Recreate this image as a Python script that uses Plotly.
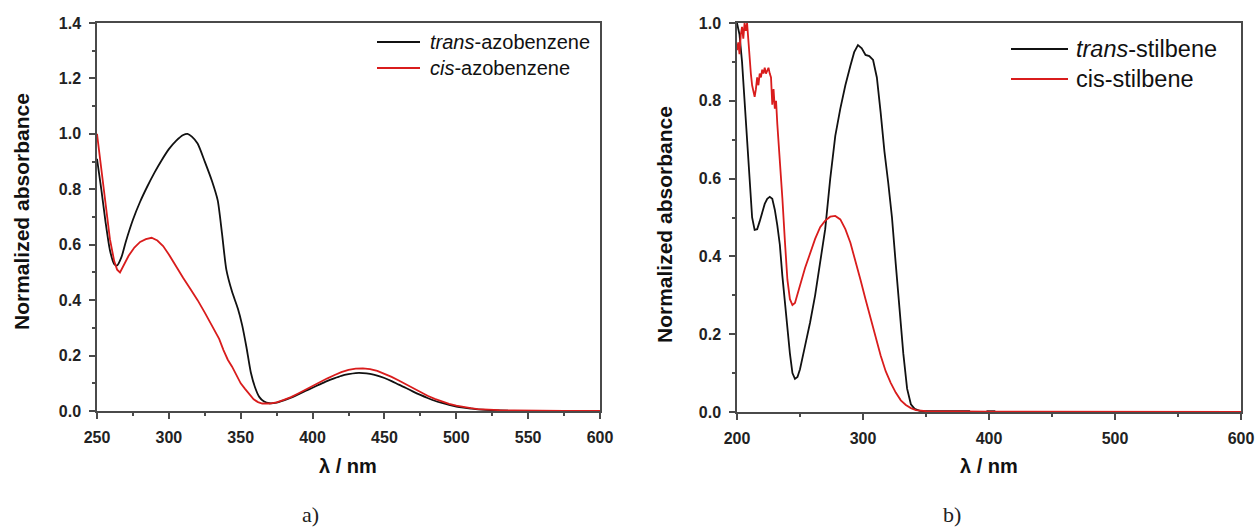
import plotly.graph_objects as go

# ---- a) azobenzene spectra ----
azo_trans_nm = [250, 253, 256, 259, 262, 264, 267, 270, 275, 280, 285, 290, 295, 300, 305, 310, 313,
                316, 320, 325, 330, 334, 337, 340, 344, 348, 351, 354, 357, 360, 363, 366, 370, 375,
                380, 385, 390, 395, 400, 405, 410, 415, 420, 425, 430, 435, 440, 445, 450, 455, 460,
                465, 470, 475, 480, 485, 490, 495, 500, 505, 510, 515, 520, 525, 530, 536]
azo_trans_abs = [0.91, 0.80, 0.68, 0.58, 0.53, 0.525, 0.555, 0.61, 0.69, 0.755, 0.81, 0.86, 0.905,
                 0.945, 0.975, 0.996, 1.0, 0.99, 0.965, 0.90, 0.83, 0.76, 0.64, 0.51, 0.43, 0.37,
                 0.31, 0.23, 0.14, 0.085, 0.05, 0.035, 0.028, 0.03, 0.038, 0.048, 0.06, 0.072, 0.084,
                 0.096, 0.108, 0.118, 0.127, 0.133, 0.137, 0.137, 0.134, 0.128, 0.119, 0.108, 0.095,
                 0.083, 0.070, 0.058, 0.047, 0.037, 0.029, 0.022, 0.016, 0.012, 0.009, 0.006, 0.004,
                 0.003, 0.002, 0.001]

azo_cis_nm = [250, 253, 256, 259, 262, 264, 266, 269, 272, 276, 280, 284, 288, 292, 296, 300, 305,
              310, 315, 320, 325, 330, 335, 338, 341, 344, 347, 350, 353, 356, 359, 362, 365, 370,
              375, 380, 385, 390, 395, 400, 405, 410, 415, 420, 425, 430, 435, 440, 445, 450, 455,
              460, 465, 470, 475, 480, 485, 490, 495, 500, 505, 510, 515, 520, 530, 540, 550, 575, 600]
azo_cis_abs = [1.0, 0.87, 0.74, 0.62, 0.54, 0.51, 0.50, 0.53, 0.56, 0.59, 0.61, 0.62, 0.625, 0.615,
               0.595, 0.565, 0.52, 0.48, 0.44, 0.40, 0.355, 0.31, 0.26, 0.22, 0.185, 0.16, 0.13, 0.10,
               0.08, 0.06, 0.042, 0.032, 0.027, 0.027, 0.031, 0.04, 0.05, 0.063, 0.077, 0.09, 0.104,
               0.117, 0.129, 0.140, 0.148, 0.153, 0.154, 0.151, 0.145, 0.135, 0.123, 0.110, 0.096,
               0.082, 0.068, 0.055, 0.044, 0.034, 0.026, 0.019, 0.014, 0.010, 0.007, 0.005, 0.003,
               0.002, 0.001, 0.0, 0.0]

# ---- b) stilbene spectra ----
stil_trans_nm = [200, 202, 204, 206, 208, 210, 212, 214, 216, 218, 220, 222, 224, 226, 228, 230, 232,
                 234, 236, 238, 240, 242, 244, 246, 248, 250, 254, 258, 262, 266, 270, 274, 278, 282,
                 286, 290, 293, 296, 299, 302, 305, 308, 311, 314, 317, 320, 323, 326, 329, 332, 335,
                 338, 341, 345, 350, 360, 370, 385, None, 398, 405]
stil_trans_abs = [1.0, 0.97, 0.90, 0.80, 0.68, 0.58, 0.50, 0.468, 0.47, 0.49, 0.515, 0.535, 0.548,
                  0.553, 0.548, 0.52, 0.48, 0.43, 0.35, 0.28, 0.21, 0.15, 0.10, 0.085, 0.09, 0.11,
                  0.17, 0.23, 0.30, 0.38, 0.47, 0.60, 0.71, 0.78, 0.84, 0.89, 0.925, 0.943, 0.935,
                  0.918, 0.915, 0.905, 0.86, 0.77, 0.67, 0.59, 0.50, 0.38, 0.26, 0.15, 0.06, 0.02,
                  0.008, 0.003, 0.002, 0.002, 0.002, 0.002, None, 0.002, 0.002]

stil_cis_nm = [200, 201, 202, 203, 204, 205, 206, 207, 208, 209, 210, 211, 212, 213, 214, 215, 216,
               217, 218, 219, 220, 221, 222, 223, 224, 225, 226, 227, 228, 229, 230, 231, 232, 234,
               236, 238, 240, 242, 244, 246, 248, 250, 254, 258, 262, 266, 270, 274, 278, 282, 286,
               290, 294, 298, 302, 306, 310, 314, 318, 322, 326, 330, 334, 338, 342, 350, 400, 600]
stil_cis_abs = [0.93, 0.95, 0.92, 0.97, 0.99, 0.96, 1.0, 0.98, 1.0, 0.95, 0.90, 0.87, 0.84, 0.82,
                0.81, 0.83, 0.86, 0.84, 0.87, 0.86, 0.88, 0.87, 0.885, 0.87, 0.88, 0.885, 0.87, 0.86,
                0.79, 0.83, 0.78, 0.80, 0.74, 0.65, 0.55, 0.44, 0.34, 0.29, 0.275, 0.28, 0.30, 0.325,
                0.37, 0.41, 0.445, 0.475, 0.492, 0.502, 0.504, 0.495, 0.47, 0.435, 0.39, 0.34, 0.29,
                0.24, 0.19, 0.145, 0.105, 0.075, 0.05, 0.03, 0.018, 0.01, 0.005, 0.002, 0.001, 0.0]

W, H = 1255, 529
BLACK = "#111111"
RED = "#d91c1c"
AXIS = "#4a4a4a"
SANS = "Liberation Sans"


def px(x):
    return x / W


def py(y):
    return 1 - y / H


fig = go.Figure()
fig.add_trace(go.Scatter(x=azo_trans_nm, y=azo_trans_abs, mode="lines",
                         line=dict(color=BLACK, width=1.8, shape="spline", smoothing=0.6),
                         xaxis="x", yaxis="y"))
fig.add_trace(go.Scatter(x=azo_cis_nm, y=azo_cis_abs, mode="lines",
                         line=dict(color=RED, width=1.8), xaxis="x", yaxis="y"))
fig.add_trace(go.Scatter(x=stil_trans_nm, y=stil_trans_abs, mode="lines",
                         line=dict(color=BLACK, width=1.8), xaxis="x2", yaxis="y2"))
fig.add_trace(go.Scatter(x=stil_cis_nm, y=stil_cis_abs, mode="lines",
                         line=dict(color=RED, width=1.8), xaxis="x2", yaxis="y2"))

tickfont = dict(family=SANS, size=16, color="#222222", weight="bold")
common = dict(showline=True, linecolor=AXIS, linewidth=1.5, mirror=True, ticks="outside",
              tickcolor=AXIS, tickwidth=1.5, ticklen=6, showgrid=False, zeroline=False,
              tickfont=tickfont, ticklabelstandoff=5, automargin=False)
minor_style = dict(ticks="outside", ticklen=3, tickcolor=AXIS, tickwidth=1.5)

fig.update_layout(
    width=W, height=H,
    margin=dict(l=0, r=0, t=0, b=0),
    paper_bgcolor="white", plot_bgcolor="white",
    showlegend=False,
    xaxis=dict(domain=[px(97), px(600)], range=[250, 600], dtick=50, anchor="y",
               minor=dict(dtick=25, **minor_style), **common),
    yaxis=dict(domain=[py(411), py(23)], range=[0, 1.4], dtick=0.2, tickformat=".1f",
               anchor="x", minor=dict(dtick=0.1, **minor_style), **common),
    xaxis2=dict(domain=[px(737), px(1241)], range=[200, 600], dtick=100, anchor="y2",
                minor=dict(dtick=50, **minor_style), **common),
    yaxis2=dict(domain=[py(412), py(23)], range=[0, 1.0], dtick=0.2, tickformat=".1f",
                anchor="x2", minor=dict(dtick=0.1, **minor_style), **common),
)

title_font = dict(family=SANS, size=20, color="#111111", weight="bold")
ytitle_font = dict(family=SANS, size=21, color="#111111", weight="bold")
annotations = [
    dict(x=px(348), y=py(466), text="λ / nm", font=title_font),
    dict(x=px(989), y=py(466), text="λ / nm", font=title_font),
    dict(x=px(21), y=py(212), text="Normalized absorbance", textangle=-90, font=ytitle_font),
    dict(x=px(664), y=py(224), text="Normalized absorbance", textangle=-90, font=ytitle_font),
    dict(x=px(310), y=py(514), text="a)",
         font=dict(family="Liberation Serif", size=22, color="#222222")),
    dict(x=px(952), y=py(514), text="b)",
         font=dict(family="Liberation Serif", size=22, color="#222222")),
]

# legend entries: sample line + label
legend_items = [
    (377, 420, 42, BLACK, "<i>trans</i>-azobenzene", 428, 20),
    (377, 420, 68, RED, "<i>cis</i>-azobenzene", 428, 20),
    (1011, 1068, 49, BLACK, "<i>trans</i>-stilbene", 1074, 23.5),
    (1011, 1068, 79, RED, "cis-stilbene", 1074, 23.5),
]
shapes = []
for x0, x1, yy, col, label, tx, fs in legend_items:
    shapes.append(dict(type="line", xref="paper", yref="paper", x0=px(x0), x1=px(x1),
                       y0=py(yy), y1=py(yy), line=dict(color=col, width=1.8)))
    annotations.append(dict(x=px(tx), y=py(yy), text=label, xanchor="left",
                            font=dict(family=SANS, size=fs, color="#111111")))

for a in annotations:
    a.setdefault("xref", "paper")
    a.setdefault("yref", "paper")
    a.setdefault("showarrow", False)
    a.setdefault("xanchor", "center")
    a.setdefault("yanchor", "middle")

fig.update_layout(annotations=annotations, shapes=shapes)
fig.write_html("out.html")
